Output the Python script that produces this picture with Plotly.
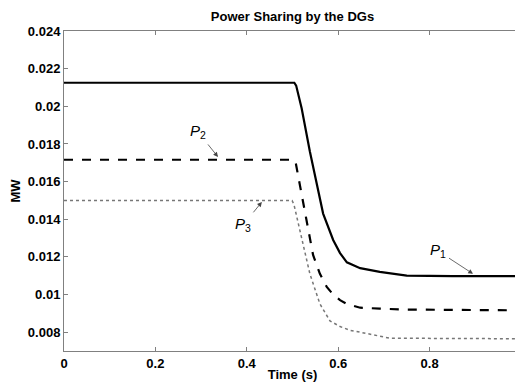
import plotly.graph_objects as go

# Data
t_p1 = [0, 0.504, 0.508, 0.52, 0.538, 0.556, 0.567, 0.589, 0.604, 0.619, 0.648, 0.691, 0.75, 0.85, 1.0]
p1 = [0.02125, 0.02125, 0.0211, 0.0199, 0.0176, 0.0155, 0.0143, 0.0129, 0.0122, 0.01171, 0.0114, 0.0112, 0.0110, 0.01098, 0.01098]

t_p2 = [0, 0.502, 0.507, 0.516, 0.521, 0.545, 0.56, 0.575, 0.589, 0.604, 0.619, 0.648, 0.691, 0.75, 1.0]
p2 = [0.01716, 0.01716, 0.0170, 0.0158, 0.0152, 0.0121, 0.0111, 0.0104, 0.0100, 0.0097, 0.0095, 0.0093, 0.00925, 0.0092, 0.00916]

t_p3 = [0, 0.499, 0.503, 0.516, 0.538, 0.56, 0.582, 0.604, 0.626, 0.648, 0.691, 0.713, 1.0]
p3 = [0.0150, 0.0150, 0.0148, 0.0134, 0.0111, 0.0095, 0.0086, 0.0083, 0.0081, 0.0080, 0.0078, 0.00768, 0.00765]

x_ticks = [0, 0.2, 0.4, 0.6, 0.8, 1.0]
x_ticktext = ["0", "0.2", "0.4", "0.6", "0.8", "1"]
y_ticks = [0.008, 0.010, 0.012, 0.014, 0.016, 0.018, 0.020, 0.022, 0.024]
y_ticktext = ["0.008", "0.01", "0.012", "0.014", "0.016", "0.018", "0.02", "0.022", "0.024"]

# labels: (text, label x, label y, arrow tip x, tip y)
labels = [
    ("<i>P</i><sub>1</sub>", 0.818, 0.01232, 0.895, 0.01110),
    ("<i>P</i><sub>2</sub>", 0.293, 0.01864, 0.337, 0.01731),
    ("<i>P</i><sub>3</sub>", 0.392, 0.0137, 0.433, 0.01492),
]

FONT = "Liberation Sans, Arial, sans-serif"

fig = go.Figure()
fig.add_trace(go.Scatter(x=t_p1, y=p1, mode="lines", line=dict(color="black", width=2.2), showlegend=False))
fig.add_trace(go.Scatter(x=t_p2, y=p2, mode="lines", line=dict(color="black", width=2.2, dash="dash"), showlegend=False))
fig.add_trace(go.Scatter(x=t_p3, y=p3, mode="lines", line=dict(color="#777777", width=1.5, dash="dot"), showlegend=False))

for txt, lx, ly, tx, ty in labels:
    fig.add_annotation(x=tx, y=ty, ax=lx, ay=ly, axref="x", ayref="y", text=txt,
                       showarrow=True, arrowhead=2, arrowsize=1.2, arrowwidth=0.8,
                       arrowcolor="#444444", standoff=0, startstandoff=2,
                       font=dict(family=FONT, size=15, color="black", weight="normal"))

axis_common = dict(showline=True, mirror="ticks", linecolor="#808080", linewidth=1,
                   ticks="inside", ticklen=4, tickcolor="#808080", showgrid=False, zeroline=False,
                   ticklabeloverflow="allow",
                   tickfont=dict(family=FONT, size=13, color="black"))

fig.update_xaxes(range=[0, 1], tickvals=x_ticks, ticktext=x_ticktext,
                 title=dict(text="<b>Time (s)</b>", font=dict(family=FONT, size=13, color="black"), standoff=0),
                 **axis_common)
fig.update_yaxes(range=[0.007, 0.024], tickvals=y_ticks, ticktext=y_ticktext,
                 title=dict(text="<b>MW</b>", font=dict(family=FONT, size=13, color="black"), standoff=6),
                 **axis_common)

# page body adds an 8px offset; size the figure to compensate
fig.update_layout(
    width=515, height=379,
    margin=dict(l=56, r=2, t=23, b=36, autoexpand=False),
    paper_bgcolor="white", plot_bgcolor="white",
    font=dict(family=FONT, size=13, color="black", weight="bold"),
    title=dict(text="<b>Power Sharing by the DGs</b>", x=(56 + 228.5) / 515, xanchor="center",
               y=1 - 8 / 379, yanchor="middle", font=dict(family=FONT, size=13, color="black")),
)

fig.write_html("out.html")
